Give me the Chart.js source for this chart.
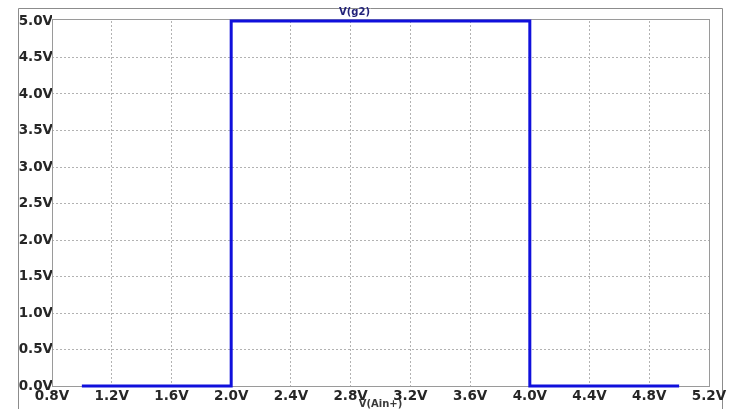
<!DOCTYPE html>
<html>
<head>
<meta charset="utf-8">
<script src="https://cdn.jsdelivr.net/npm/chart.js@4/dist/chart.umd.min.js"></script>
<style>
  html, body { margin: 0; padding: 0; background: #ffffff; }
  #c { display: block; }
</style>
</head>
<body>
<canvas id="c" width="732" height="409"></canvas>
<script>
// ---- data ----
const xValues = [1.0, 2.0, 2.0, 4.0, 4.0, 5.0];   // V(Ain+)
const yValues = [0.0, 0.0, 5.0, 5.0, 0.0, 0.0];   // V(g2)
const xTicks = [0.8, 1.2, 1.6, 2.0, 2.4, 2.8, 3.2, 3.6, 4.0, 4.4, 4.8, 5.2];
const yTicks = [0.0, 0.5, 1.0, 1.5, 2.0, 2.5, 3.0, 3.5, 4.0, 4.5, 5.0];
const seriesName = 'V(g2)';
const xAxisName = 'V(Ain+)';

const points = xValues.map((x, i) => ({ x: x, y: yValues[i] }));
const fmt = v => Number(v).toFixed(1) + 'V';

const frameColor = '#8c8c8c';
const gridColor = '#b2b2b2';
const tickFont = { family: 'DejaVu Sans', size: 13.5, weight: 'bold' };

const framePlugin = {
  id: 'frame',
  beforeDraw(chart) {
    const ctx = chart.ctx;
    ctx.save();
    ctx.fillStyle = '#ffffff';
    ctx.fillRect(0, 0, chart.width, chart.height);
    ctx.strokeStyle = frameColor;
    ctx.lineWidth = 1;
    ctx.beginPath();
    ctx.moveTo(18.5, chart.height);
    ctx.lineTo(18.5, 8.5);
    ctx.lineTo(722.5, 8.5);
    ctx.lineTo(722.5, chart.height);
    ctx.stroke();
    ctx.restore();
  },
  beforeDatasetsDraw(chart) {
    const a = chart.chartArea;
    const ctx = chart.ctx;
    ctx.save();
    ctx.strokeStyle = '#9a9a9a';
    ctx.lineWidth = 1;
    ctx.strokeRect(Math.round(a.left) + 0.5, Math.round(a.top) - 1.5,
                   Math.round(a.right - a.left), Math.round(a.bottom - a.top) + 2);
    ctx.restore();
  }
};

new Chart(document.getElementById('c'), {
  type: 'scatter',
  data: {
    datasets: [{
      label: seriesName,
      data: points,
      showLine: true,
      borderColor: '#1010dc',
      backgroundColor: '#1010dc',
      borderWidth: 3,
      pointRadius: 0,
      tension: 0,
      clip: 6
    }]
  },
  options: {
    responsive: false,
    animation: false,
    devicePixelRatio: 1,
    layout: { padding: { left: 0, right: 23, top: 0, bottom: 0 } },
    plugins: {
      legend: { display: false },
      tooltip: { enabled: false },
      title: {
        display: true,
        text: seriesName,
        color: '#22227a',
        font: { family: 'DejaVu Sans', size: 10, weight: 'bold', lineHeight: 1.2 },
        padding: { top: 6, bottom: 3 }
      }
    },
    scales: {
      x: {
        type: 'linear',
        min: xTicks[0],
        max: xTicks[xTicks.length - 1],
        afterBuildTicks: s => { s.ticks = xTicks.map(v => ({ value: v })); },
        afterFit: s => { s.height = 23; },
        ticks: {
          callback: v => fmt(v),
          color: '#262626',
          font: tickFont,
          padding: 2,
          maxRotation: 0,
          autoSkip: false
        },
        grid: {
          drawTicks: false,
          color: c => (c.tick && (Math.abs(c.tick.value - xTicks[0]) < 1e-6 ||
                       Math.abs(c.tick.value - xTicks[xTicks.length - 1]) < 1e-6))
                       ? 'rgba(0,0,0,0)' : gridColor,
          lineWidth: 1
        },
        border: { display: false, dash: [2, 2] },
        title: {
          display: true,
          text: xAxisName,
          color: '#3a3a3a',
          font: { family: 'DejaVu Sans', size: 10, weight: 'bold', lineHeight: 1 },
          padding: { top: 0, bottom: 0 }
        }
      },
      y: {
        type: 'linear',
        min: yTicks[0],
        max: yTicks[yTicks.length - 1],
        afterBuildTicks: s => { s.ticks = yTicks.map(v => ({ value: v })); },
        afterFit: s => { s.width = 52; },
        ticks: {
          callback: v => fmt(v),
          color: '#262626',
          font: tickFont,
          padding: -1,
          autoSkip: false
        },
        grid: {
          drawTicks: false,
          color: c => (c.tick && (Math.abs(c.tick.value - yTicks[0]) < 1e-6 ||
                       Math.abs(c.tick.value - yTicks[yTicks.length - 1]) < 1e-6))
                       ? 'rgba(0,0,0,0)' : gridColor,
          lineWidth: 1
        },
        border: { display: false, dash: [2, 2] }
      }
    }
  },
  plugins: [framePlugin]
});
</script>
</body>
</html>
